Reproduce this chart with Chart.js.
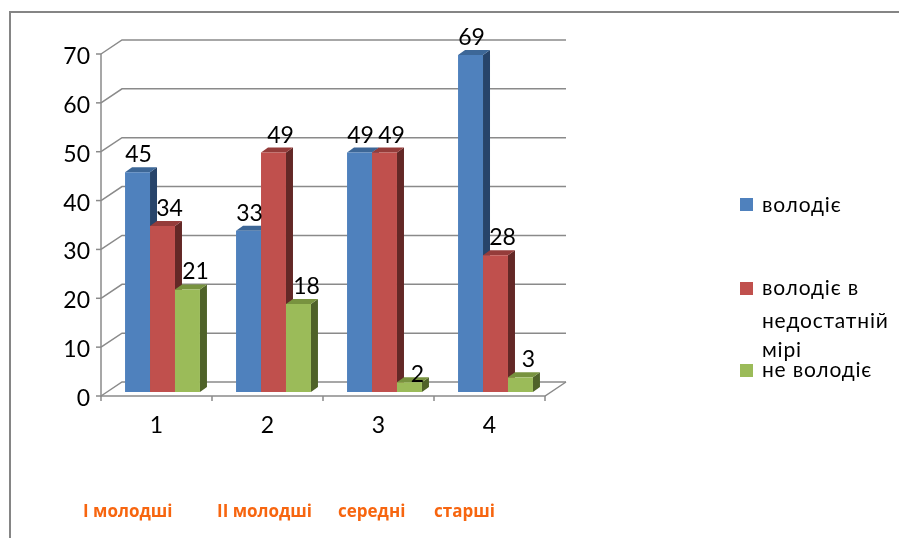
<!DOCTYPE html>
<html>
<head>
<meta charset="utf-8">
<script src="https://cdn.jsdelivr.net/npm/chart.js@4.4.0/dist/chart.umd.min.js"></script>
<style>
  html, body { margin: 0; padding: 0; background: #fff; }
  canvas { display: block; }
</style>
</head>
<body>
<canvas id="chart" width="899" height="538"></canvas>
<script>
// дані діаграми
const categories = ['1', '2', '3', '4'];
const groupNames = ['І молодші', 'ІІ молодші', 'середні', 'старші'];
const seriesNames = ['володіє', 'володіє в недостатній мірі', 'не володіє'];
const owns = [45, 33, 49, 69];
const partly = [34, 49, 49, 28];
const notOwns = [21, 18, 2, 3];
const yTicks = [0, 10, 20, 30, 40, 50, 60, 70];

// кольори: фронт, бік, верх
const fronts = ['#4f81bd', '#c0504d', '#9bbb59'];
const sides = ['#27446a', '#632826', '#4f6229'];
const tops = ['#3d6797', '#953c3a', '#78933f'];

const DX = 7, DY = -5;           // глибина стовпчика
const WX = 21, WY = -14;         // глибина стінки
const FRONT_X = -6, FRONT_Y = 4; // зсув передньої осі від площини стовпчиків
const labelDx = [1, 7, 8];
const FONT = 'Lato, "Open Sans", sans-serif';

function poly(ctx, pts, color) {
  ctx.beginPath();
  ctx.moveTo(pts[0][0], pts[0][1]);
  for (let i = 1; i < pts.length; i++) ctx.lineTo(pts[i][0], pts[i][1]);
  ctx.closePath();
  ctx.fillStyle = color;
  ctx.fill();
}

const fake3d = {
  id: 'fake3d',
  beforeDatasetsDraw(chart) {
    const ctx = chart.ctx;
    const area = chart.chartArea;
    const y = chart.scales.y;
    const left = area.left + FRONT_X, right = area.right + FRONT_X;

    ctx.save();
    // рамка
    ctx.strokeStyle = '#858585';
    ctx.lineWidth = 2;
    ctx.beginPath();
    ctx.moveTo(10, 540); ctx.lineTo(10, 12); ctx.lineTo(899, 12);
    ctx.stroke();

    // сітка на задній стінці
    ctx.strokeStyle = '#8a8a8a';
    ctx.lineWidth = 1.5;
    yTicks.forEach(v => {
      const fy = y.getPixelForValue(v) + FRONT_Y;
      ctx.beginPath();
      ctx.moveTo(left, fy);
      ctx.lineTo(left + WX, fy + WY);
      ctx.lineTo(right + WX, fy + WY);
      ctx.stroke();
      // поділка
      ctx.beginPath();
      ctx.moveTo(left - 5, fy); ctx.lineTo(left, fy);
      ctx.stroke();
    });
    const y0 = y.getPixelForValue(0) + FRONT_Y;
    const yTop = y.getPixelForValue(70) + FRONT_Y;
    ctx.beginPath();
    ctx.moveTo(left, yTop); ctx.lineTo(left, y0); ctx.lineTo(right, y0);
    ctx.lineTo(right + WX, y0 + WY);
    ctx.stroke();
    for (let i = 0; i <= categories.length; i++) {
      const cx = left + (right - left) * i / categories.length;
      ctx.beginPath();
      ctx.moveTo(cx, y0); ctx.lineTo(cx, y0 + 5);
      ctx.stroke();
    }

    // бокові та верхні грані стовпчиків
    for (let i = 0; i < categories.length; i++) {
      chart.data.datasets.forEach((ds, d) => {
        const bar = chart.getDatasetMeta(d).data[i];
        const l = bar.x - bar.width / 2, r = bar.x + bar.width / 2;
        const t = bar.y, b = bar.base;
        poly(ctx, [[r, t], [r + DX, t + DY], [r + DX, b + DY], [r, b]], sides[d]);
        poly(ctx, [[l, t], [l + DX, t + DY], [r + DX, t + DY], [r, t]], tops[d]);
      });
    }
    ctx.restore();
  },
  afterDatasetsDraw(chart) {
    const ctx = chart.ctx;
    const area = chart.chartArea;
    const y = chart.scales.y;
    const xs = chart.scales.x;
    ctx.save();
    ctx.fillStyle = '#000';
    ctx.font = '23px ' + FONT;

    // підписи значень
    ctx.textAlign = 'center';
    ctx.textBaseline = 'alphabetic';
    chart.data.datasets.forEach((ds, d) => {
      chart.getDatasetMeta(d).data.forEach((bar, i) => {
        const lift = ds.data[i] < 3 ? 0 : 10;
        ctx.fillText(String(ds.data[i]), bar.x + labelDx[d], bar.y - lift);
      });
    });

    // вісь Y
    ctx.textAlign = 'right';
    yTicks.forEach(v => {
      ctx.fillText(String(v), area.left + FRONT_X - 11, y.getPixelForValue(v) + 14);
    });

    // вісь X
    ctx.textAlign = 'center';
    const y0 = y.getPixelForValue(0) + FRONT_Y;
    categories.forEach((c, i) => {
      ctx.fillText(c, xs.getPixelForValue(i) + FRONT_X, y0 + 37);
    });

    // легенда
    ctx.textAlign = 'left';
    ctx.font = '21px ' + FONT;
    ctx.letterSpacing = '0.8px';
    const sq = [198, 282, 364];
    const lines = [[['володіє', 212]], [['володіє в', 295], ['недостатній', 328], ['мірі', 357]], [['не володіє', 377]]];
    seriesNames.forEach((n, d) => {
      ctx.fillStyle = fronts[d];
      ctx.fillRect(740, sq[d], 13, 13);
      ctx.fillStyle = '#000';
      lines[d].forEach(([txt, by]) => ctx.fillText(txt, 762, by));
    });
    ctx.letterSpacing = '0px';

    // назви груп
    ctx.fillStyle = '#f7650f';
    ctx.font = 'bold 17px "Open Sans", sans-serif';
    const gx = [83, 217, 338, 434];
    groupNames.forEach((g, i) => ctx.fillText(g, gx[i], 517));
    ctx.restore();
  }
};

new Chart(document.getElementById('chart'), {
  type: 'bar',
  data: {
    labels: categories,
    datasets: [
      { label: seriesNames[0], data: owns, backgroundColor: fronts[0] },
      { label: seriesNames[1], data: partly, backgroundColor: fronts[1] },
      { label: seriesNames[2], data: notOwns, backgroundColor: fronts[2] }
    ]
  },
  options: {
    responsive: false,
    animation: false,
    layout: { padding: { left: 107, right: 348, top: 50, bottom: 146 } },
    datasets: { bar: { categoryPercentage: 0.675, barPercentage: 1, borderWidth: 0 } },
    scales: {
      x: { display: false },
      y: { display: false, min: 0, max: 70, ticks: { stepSize: 10 } }
    },
    plugins: { legend: { display: false }, tooltip: { enabled: false } }
  },
  plugins: [fake3d]
});
</script>
</body>
</html>
